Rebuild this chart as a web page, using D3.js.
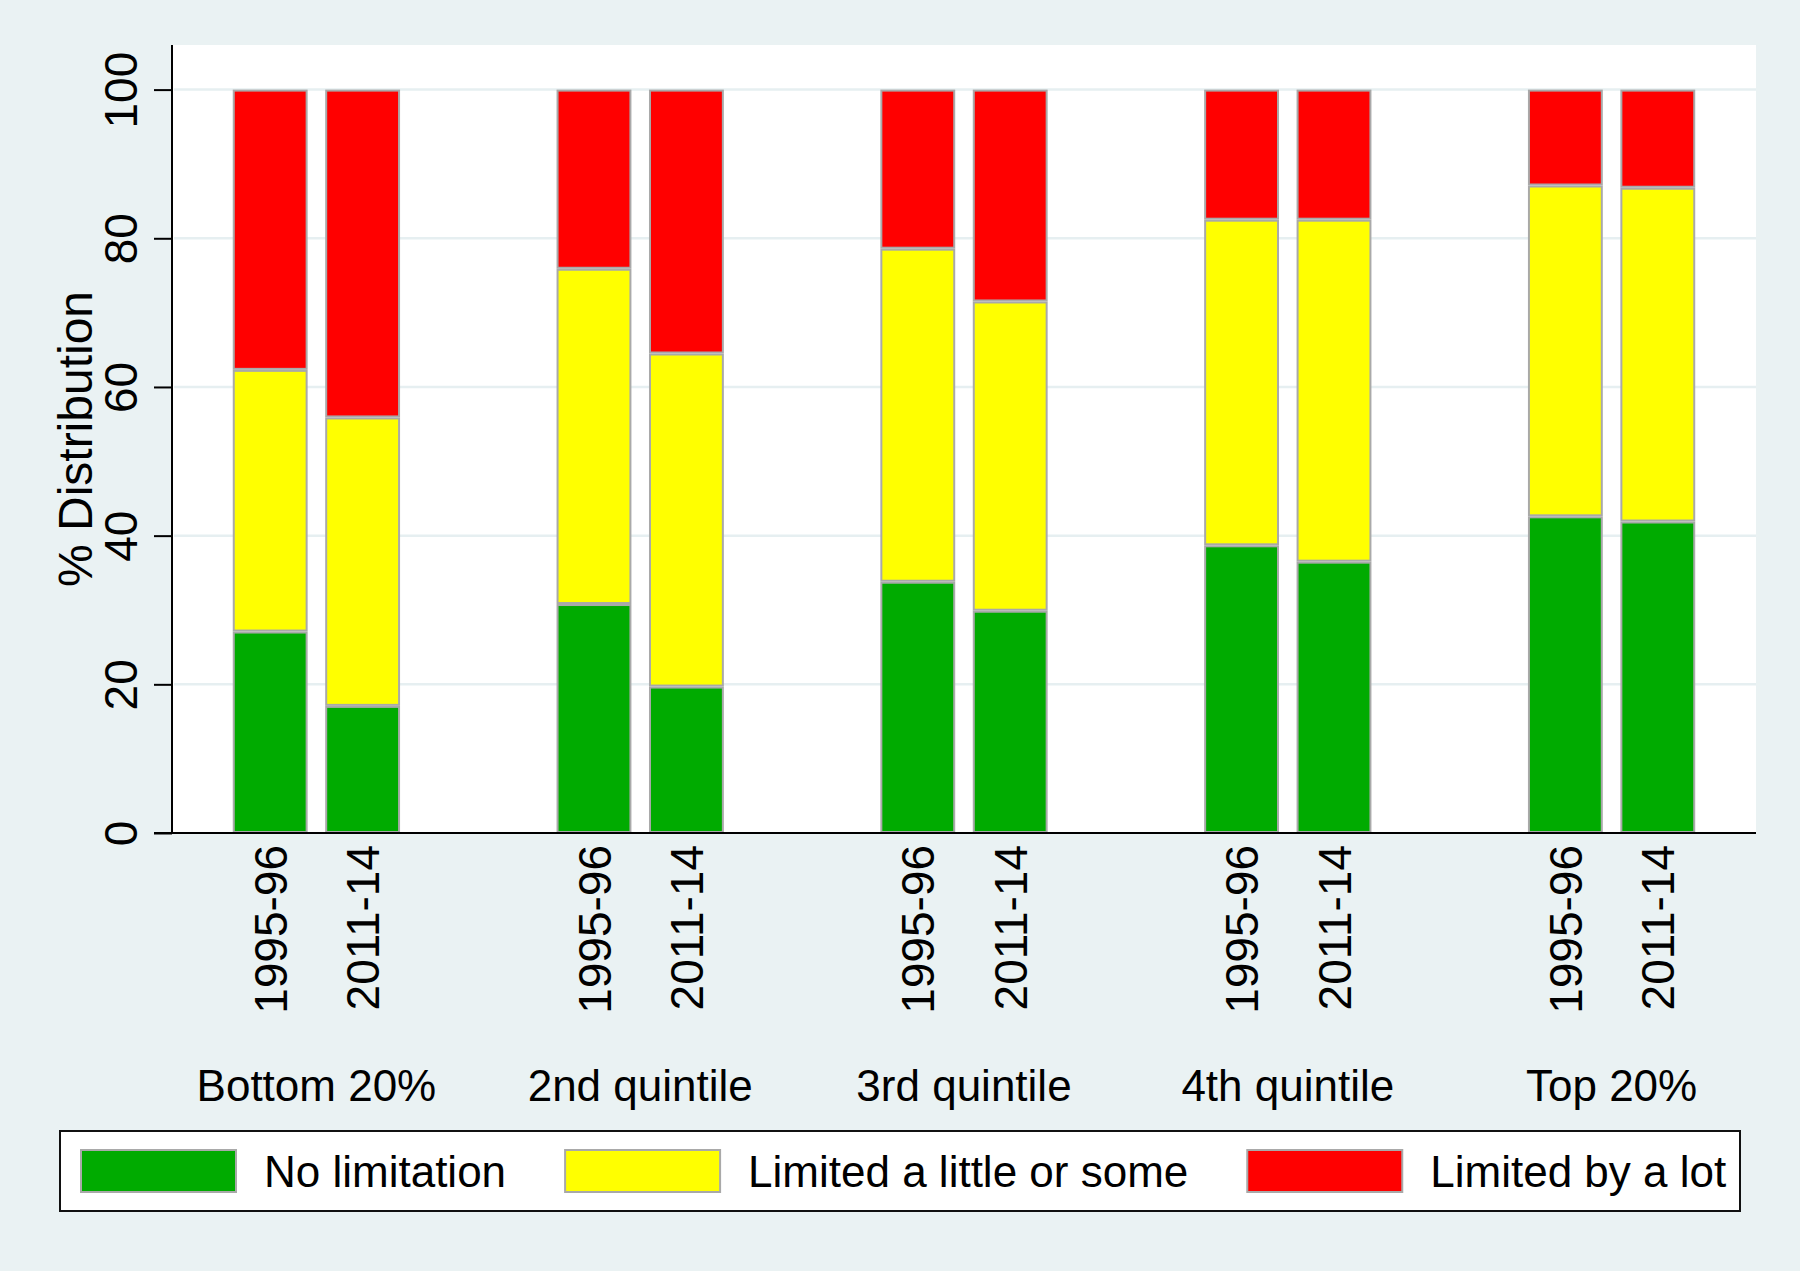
<!DOCTYPE html>
<html>
<head>
<meta charset="utf-8">
<script src="https://cdn.jsdelivr.net/npm/d3@7"></script>
<style>
  html, body { margin: 0; padding: 0; background: #ffffff; }
  svg { display: block; }
  text { font-family: "Liberation Sans", Arial, Helvetica, sans-serif; fill: #000; }
</style>
</head>
<body>
<svg id="chart" width="1800" height="1275"></svg>
<script>
// ---------------- data ----------------
const categories = ["Bottom 20%", "2nd quintile", "3rd quintile", "4th quintile", "Top 20%"];
const periods = ["1995-96", "2011-14"];
const seriesNames = ["No limitation", "Limited a little or some", "Limited by a lot"];
const seriesColors = ["#00ab00", "#ffff00", "#ff0000"];

const noLimitation1995 = [27.1, 30.8, 33.8, 38.7, 42.6];
const noLimitation2011 = [17.1, 19.7, 29.9, 36.5, 41.9];
const limitedLittle1995 = [35.2, 45.1, 44.8, 43.8, 44.5];
const limitedLittle2011 = [38.8, 44.8, 41.6, 46.0, 44.9];
const limitedLot1995 = [37.7, 24.1, 21.4, 17.5, 12.9];
const limitedLot2011 = [44.1, 35.5, 28.5, 17.5, 13.2];

const yTicks = [0, 20, 40, 60, 80, 100];
const yTitle = "% Distribution";

// ---------------- layout ----------------
const W = 1800, H = 1275;
const plot = { left: 172, right: 1756, top: 45, bottom: 833 };
const FONT_TICK = 46, FONT_GROUP = 44, FONT_LEGEND = 44, FONT_TITLE = 48;

const svg = d3.select("#chart");

// backgrounds
svg.append("rect").attr("x", 0).attr("y", 0).attr("width", W).attr("height", 1271).attr("fill", "#eaf2f3");
svg.append("rect").attr("x", plot.left).attr("y", plot.top)
  .attr("width", plot.right - plot.left).attr("height", plot.bottom - plot.top).attr("fill", "#ffffff");

// rows of data
const rows = [];
categories.forEach((c, i) => {
  rows.push({ cat: c, period: periods[0], v: [noLimitation1995[i], limitedLittle1995[i], limitedLot1995[i]] });
  rows.push({ cat: c, period: periods[1], v: [noLimitation2011[i], limitedLittle2011[i], limitedLot2011[i]] });
});
const keys = [0, 1, 2];
const stacked = d3.stack().keys(keys).value((d, k) => d.v[k])(rows);

// scales
const y = d3.scaleLinear().domain([0, 106]).range([plot.bottom, plot.top]);
const xGroup = d3.scalePoint().domain(categories).range([plot.left, plot.right]).padding(0.446);
const groupSpan = 167.3;
const xInner = d3.scaleBand().domain(periods).range([0, groupSpan]).paddingInner(0.19).paddingOuter(0);
const barX = d => xGroup(d.cat) - groupSpan / 2 + xInner(d.period);

// gridlines
svg.append("g").selectAll("line").data(yTicks.filter(t => t > 0)).join("line")
  .attr("x1", plot.left + 2).attr("x2", plot.right)
  .attr("y1", d => y(d)).attr("y2", d => y(d))
  .attr("stroke", "#e6eff1").attr("stroke-width", 2.5);

// bars
const layer = svg.append("g").selectAll("g").data(stacked).join("g")
  .attr("fill", (d, i) => seriesColors[i]);
layer.selectAll("rect").data(d => d.map(p => ({ p, row: p.data }))).join("rect")
  .attr("x", d => barX(d.row) + 1)
  .attr("width", xInner.bandwidth() - 2)
  .attr("y", d => y(d.p[1]) + 1)
  .attr("height", d => y(d.p[0]) - y(d.p[1]) - 2)
  .attr("stroke", "#a9a9a9").attr("stroke-width", 2);

// y axis
const yAxis = d3.axisLeft(y).tickValues(yTicks).tickSize(18).tickPadding(0).tickFormat(d3.format("d"));
const gy = svg.append("g").attr("transform", `translate(${plot.left},0)`).call(yAxis);
gy.select(".domain").attr("d", `M0,${plot.top}V${plot.bottom}`).attr("stroke", "#000").attr("stroke-width", 2);
gy.selectAll(".tick line").attr("stroke", "#000").attr("stroke-width", 2);
gy.selectAll(".tick text")
  .attr("transform", "rotate(-90)")
  .attr("x", 0).attr("y", -35).attr("dy", 0)
  .attr("text-anchor", "middle")
  .style("font-size", FONT_TICK + "px")
  .style("font-family", "Liberation Sans, Arial, sans-serif")
  .attr("fill", "#000");

// x axis line
svg.append("line").attr("x1", plot.left - 18).attr("x2", plot.right)
  .attr("y1", plot.bottom).attr("y2", plot.bottom)
  .attr("stroke", "#000").attr("stroke-width", 2);

// x labels (periods), rotated
svg.append("g").selectAll("text").data(rows).join("text")
  .attr("transform", d => `translate(${barX(d) + xInner.bandwidth() / 2},845) rotate(-90)`)
  .attr("text-anchor", "end").attr("dy", "0.36em")
  .style("font-size", FONT_TICK + "px")
  .text(d => d.period);

// group labels
svg.append("g").selectAll("text").data(categories).join("text")
  .attr("x", d => xGroup(d)).attr("y", 1101)
  .attr("text-anchor", "middle")
  .style("font-size", FONT_GROUP + "px")
  .text(d => d);

// y title
svg.append("text")
  .attr("transform", `translate(92,${(plot.top + plot.bottom) / 2}) rotate(-90)`)
  .attr("text-anchor", "middle")
  .style("font-size", FONT_TITLE + "px")
  .text(yTitle);

// legend
const legend = svg.append("g");
legend.append("rect").attr("x", 60).attr("y", 1131).attr("width", 1680).attr("height", 80)
  .attr("fill", "#fff").attr("stroke", "#111").attr("stroke-width", 2);
let lx = 80;
seriesNames.forEach((name, i) => {
  legend.append("rect").attr("x", lx + 1).attr("y", 1150).attr("width", 155).attr("height", 42)
    .attr("fill", seriesColors[i]).attr("stroke", "#a9a9a9").attr("stroke-width", 2);
  const t = legend.append("text").attr("x", lx + 157 + 27).attr("y", 1187)
    .style("font-size", FONT_LEGEND + "px").text(name);
  const w = t.node().getComputedTextLength();
  lx = lx + 157 + 27 + w + 58;
});
</script>
</body>
</html>
